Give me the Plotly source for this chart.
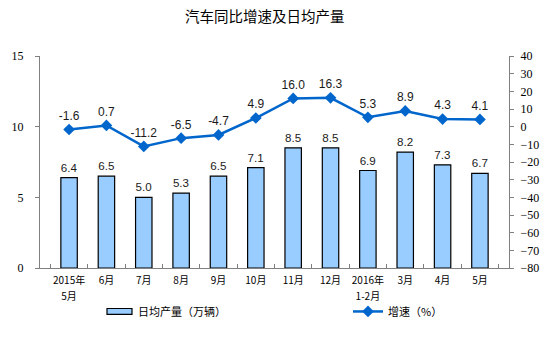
import plotly.graph_objects as go

months = ["2015年<br>5月", "6月", "7月", "8月", "9月", "10月", "11月", "12月",
          "2016年<br>1-2月", "3月", "4月", "5月"]
daily_output = [6.4, 6.5, 5.0, 5.3, 6.5, 7.1, 8.5, 8.5, 6.9, 8.2, 7.3, 6.7]
growth = [-1.6, 0.7, -11.2, -6.5, -4.7, 4.9, 16.0, 16.3, 5.3, 8.9, 4.3, 4.1]

label_font = dict(family="Liberation Sans, Arial", size=12, color="#1a1a1a")
cjk = "Noto Sans CJK SC, sans-serif"
serif = "Liberation Serif"

# category labels: small glyphs with the roomier line spacing of a larger base font
tick_text = ["<span style='font-size:10px'>" + "</span><br><span style='font-size:10px'>".join(m.split("<br>")) + "</span>"
             for m in months]

fig = go.Figure()
fig.add_trace(go.Bar(
    x=months, y=daily_output, name="日均产量（万辆）",
    marker=dict(color="#99CCFF", line=dict(color="#000000", width=1.2)),
    width=0.44,
    text=[f"{v:.1f}" for v in daily_output], textposition="outside",
    textfont=label_font, cliponaxis=False,
    showlegend=False,
))
fig.add_trace(go.Scatter(
    x=months, y=growth, name="增速（%）", yaxis="y2",
    mode="lines+markers+text",
    line=dict(color="#0066CC", width=2.5),
    marker=dict(symbol="diamond", size=9, color="#0066CC"),
    text=[f"{v:.1f}" for v in growth], textposition="top center",
    textfont=label_font, cliponaxis=False,
))

# legend key for the bar series: a wide outlined swatch with its caption
leg_y = -0.205
fig.add_shape(type="rect", xref="paper", yref="paper",
              x0=(107 - 40) / 469, x1=(132 - 40) / 469,
              y0=leg_y - 0.014, y1=leg_y + 0.014,
              fillcolor="#99CCFF", line=dict(color="#000000", width=1.2))
fig.add_annotation(text="日均产量（万辆）", xref="paper", yref="paper",
                   x=(136 - 40) / 469, y=leg_y, xanchor="left", yanchor="middle",
                   showarrow=False, font=dict(family=cjk, size=11, color="#000000"))

fig.update_layout(
    width=554, height=345,
    margin=dict(l=40, r=45, t=56, b=77),
    paper_bgcolor="white", plot_bgcolor="white",
    title=dict(text="汽车同比增速及日均产量", x=0.478, xanchor="center",
               y=0.95, yanchor="middle",
               font=dict(family=cjk, size=14.5, color="#000000")),
    xaxis=dict(
        showline=True, linecolor="#808080", linewidth=1,
        ticks="inside", ticklen=4, tickcolor="#808080",
        tickson="boundaries", tickangle=0,
        tickmode="array", tickvals=months, ticktext=tick_text,
        tickfont=dict(family=cjk, size=12.5, color="#000000"),
        showgrid=False,
    ),
    yaxis=dict(
        range=[0, 15], dtick=5,
        showline=True, linecolor="#808080", linewidth=1,
        ticks="outside", ticklen=4, tickcolor="#808080",
        ticklabelstandoff=9,
        tickfont=dict(family=serif, size=12, color="#000000"),
        showgrid=False, zeroline=False,
    ),
    yaxis2=dict(
        range=[-80, 40], dtick=10, overlaying="y", side="right",
        showline=True, linecolor="#808080", linewidth=1,
        ticks="outside", ticklen=4, tickcolor="#808080",
        ticklabelstandoff=4,
        tickfont=dict(family=serif, size=12, color="#000000"),
        showgrid=False, zeroline=False,
    ),
    legend=dict(
        x=(348 - 40) / 469, y=leg_y, xanchor="left", yanchor="middle",
        orientation="h", bgcolor="rgba(0,0,0,0)",
        font=dict(family=cjk, size=11, color="#000000"),
    ),
    showlegend=True,
)

fig.write_html("out.html")
